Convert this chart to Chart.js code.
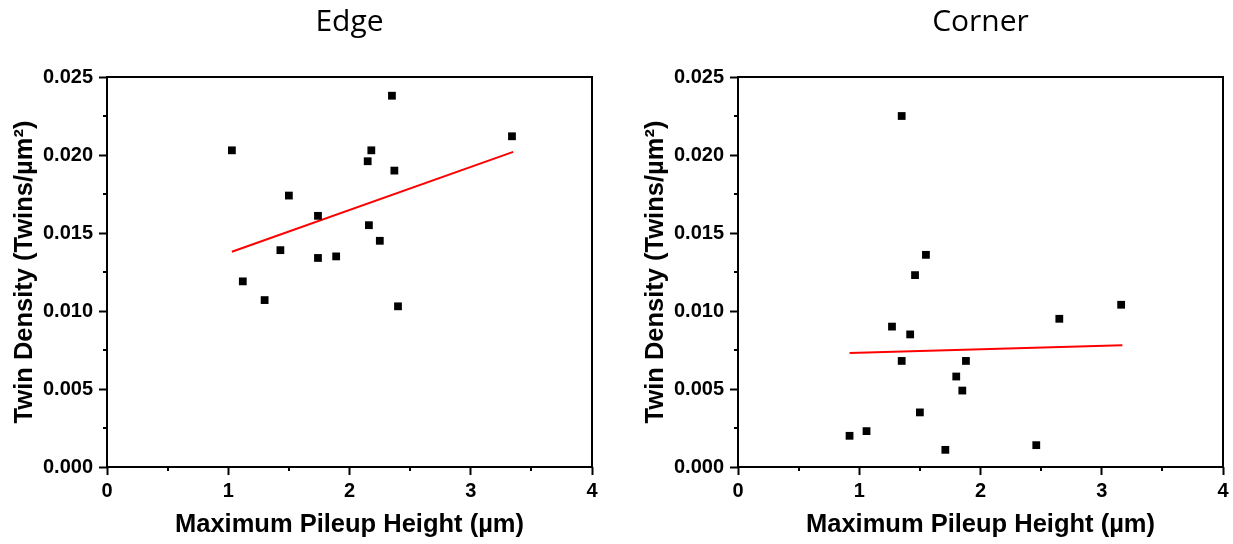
<!DOCTYPE html>
<html>
<head>
<meta charset="utf-8">
<title>Twin Density vs Maximum Pileup Height</title>
<script src="https://cdn.jsdelivr.net/npm/chart.js@4.4.0/dist/chart.umd.min.js"></script>
<style>
  html, body { margin: 0; padding: 0; background: #fff; }
  #contenedor { position: relative; width: 1233px; height: 544px; }
  canvas { position: absolute; top: 0; }
  #graficoEdge { left: 0; }
  #graficoCorner { left: 616px; }
</style>
</head>
<body>
<div id="contenedor">
  <canvas id="graficoEdge" width="616" height="544"></canvas>
  <canvas id="graficoCorner" width="617" height="544"></canvas>
</div>
<script>
// Edge indents: pileup height (µm) and twin density (twins/µm²)
const edgeX = [1.03, 1.12, 1.30, 1.43, 1.50, 1.74, 1.74, 1.89, 2.15, 2.18, 2.16, 2.25, 2.35, 2.37, 2.40, 3.34];
const edgeY = [0.0203, 0.0119, 0.0107, 0.0139, 0.0174, 0.0161, 0.0134, 0.0135, 0.0196, 0.0203, 0.0155, 0.0145, 0.0238, 0.0190, 0.0103, 0.0212];
const edgeFitX = [1.03, 3.35];
const edgeFitY = [0.0138, 0.0202];

// Corner indents
const cornerX = [0.92, 1.06, 1.27, 1.35, 1.35, 1.42, 1.46, 1.50, 1.55, 1.71, 1.80, 1.85, 1.88, 2.46, 2.65, 3.16];
const cornerY = [0.0020, 0.0023, 0.0090, 0.0225, 0.0068, 0.0085, 0.0123, 0.0035, 0.0136, 0.0011, 0.0058, 0.0049, 0.0068, 0.0014, 0.0095, 0.0104];
const cornerFitX = [0.92, 3.17];
const cornerFitY = [0.0073, 0.0078];

// Axis ticks
const ticksX = [0, 1, 2, 3, 4];
const ticksY = [0, 0.005, 0.010, 0.015, 0.020, 0.025];

Chart.defaults.font.family = "'Liberation Sans', Arial, sans-serif";
Chart.defaults.color = '#000';

// Box around the plot area plus the short minor ticks
const marcoPlugin = {
    id: 'marco',
    beforeDatasetsDraw(chart) {
        const { ctx, chartArea: a, scales } = chart;
        ctx.save();
        ctx.strokeStyle = '#000';
        ctx.lineWidth = 2;
        ctx.strokeRect(a.left, a.top, a.right - a.left, a.bottom - a.top);
        ctx.beginPath();
        for (let i = 0; i < ticksX.length - 1; i++) {
            const px = Math.round(scales.x.getPixelForValue((ticksX[i] + ticksX[i + 1]) / 2));
            ctx.moveTo(px, a.bottom);
            ctx.lineTo(px, a.bottom + 4);
        }
        for (let i = 0; i < ticksY.length - 1; i++) {
            const py = Math.round(scales.y.getPixelForValue((ticksY[i] + ticksY[i + 1]) / 2));
            ctx.moveTo(a.left, py);
            ctx.lineTo(a.left - 4, py);
        }
        ctx.stroke();
        ctx.restore();
    }
};

function juntar(xs, ys) {
    return xs.map((x, i) => ({ x: x, y: ys[i] }));
}

function crearGrafico(id, titulo, xs, ys, fitX, fitY, anchoEjeY, paddingDerecho, paddingTituloY) {
    const ctx = document.getElementById(id).getContext('2d');
    return new Chart(ctx, {
        type: 'scatter',
        data: {
            datasets: [{
                data: juntar(xs, ys),
                pointStyle: 'rect',
                pointRadius: 5.5,
                borderWidth: 0,
                backgroundColor: '#000',
                borderColor: '#000'
            }, {
                data: juntar(fitX, fitY),
                showLine: true,
                pointRadius: 0,
                borderColor: '#ff0000',
                borderWidth: 2
            }]
        },
        options: {
            responsive: false,
            animation: false,
            layout: { padding: { top: 0, right: paddingDerecho, bottom: 0, left: 0 } },
            plugins: {
                legend: { display: false },
                tooltip: { enabled: false },
                title: {
                    display: true,
                    text: titulo,
                    fullSize: false,
                    color: '#000',
                    font: { family: "'Open Sans', sans-serif", size: 30, weight: 'normal' },
                    padding: { top: 4, bottom: 37 }
                }
            },
            scales: {
                x: {
                    type: 'linear',
                    min: 0, max: 4,
                    afterFit: s => { s.height = 77; },
                    afterBuildTicks: s => { s.ticks = ticksX.map(v => ({ value: v })); },
                    grid: { drawOnChartArea: false, tickLength: 8, tickWidth: 2, tickColor: '#000' },
                    border: { display: false },
                    ticks: { color: '#000', padding: 4, font: { size: 20, weight: 'bold' } },
                    title: {
                        display: true,
                        text: 'Maximum Pileup Height (µm)',
                        color: '#000',
                        font: { size: 25.5, weight: 'bold' },
                        padding: { top: 0, bottom: 4 }
                    }
                },
                y: {
                    type: 'linear',
                    min: 0, max: 0.025,
                    afterFit: s => { s.width = anchoEjeY; },
                    afterBuildTicks: s => { s.ticks = ticksY.map(v => ({ value: v })); },
                    grid: { drawOnChartArea: false, tickLength: 8, tickWidth: 2, tickColor: '#000' },
                    border: { display: false },
                    ticks: {
                        color: '#000', padding: 6, font: { size: 20, weight: 'bold' },
                        callback: v => v.toFixed(3)
                    },
                    title: {
                        display: true,
                        text: 'Twin Density (Twins/µm²)',
                        color: '#000',
                        font: { size: 25.5, weight: 'bold' },
                        padding: { top: paddingTituloY, bottom: 0 }
                    }
                }
            }
        },
        plugins: [marcoPlugin]
    });
}

crearGrafico('graficoEdge', 'Edge', edgeX, edgeY, edgeFitX, edgeFitY, 107, 24, 10);
crearGrafico('graficoCorner', 'Corner', cornerX, cornerY, cornerFitX, cornerFitY, 122, 10, 25);
</script>
</body>
</html>
